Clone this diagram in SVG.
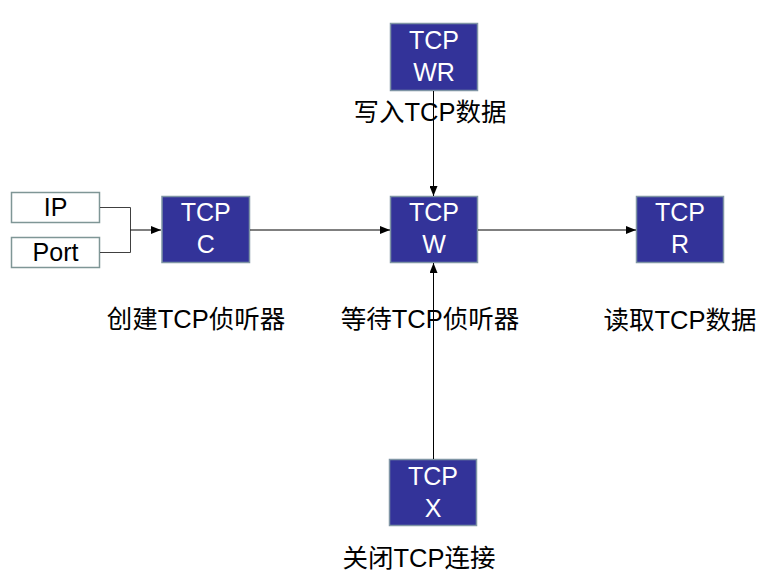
<svg xmlns="http://www.w3.org/2000/svg" width="765" height="583" viewBox="0 0 765 583">
<defs>
<style>
.node{fill:#333399;stroke:#7f95a5;stroke-width:1.5}
.in{fill:#ffffff;stroke:#7f9696;stroke-width:1.5}
.nt{font-family:"Liberation Sans",Arial,sans-serif;font-size:25px;fill:#ffffff;text-anchor:middle}
.it{font-family:"Liberation Sans",Arial,sans-serif;font-size:25px;fill:#000000;text-anchor:middle}
.lb{font-family:"Liberation Sans","Noto Sans CJK SC",sans-serif;font-size:25.5px;fill:#000000;text-anchor:middle}
.ln{stroke:#000000;stroke-width:1;fill:none}
.lg{stroke:#404040;stroke-width:1;fill:none}
</style>
<marker id="ah" viewBox="0 0 10 8" refX="10" refY="4" markerWidth="10" markerHeight="8" markerUnits="userSpaceOnUse" orient="auto">
<path d="M0,0 L10,4 L0,8 Z" fill="#000000"/>
</marker>
</defs>
<rect width="765" height="583" fill="#ffffff"/>
<g id="labels">
<text class="lb" x="430" y="121">写入TCP数据</text>
<text class="lb" x="196" y="328">创建TCP侦听器</text>
<text class="lb" x="430" y="328">等待TCP侦听器</text>
<text class="lb" x="680" y="329">读取TCP数据</text>
<text class="lb" x="419" y="567">关闭TCP连接</text>
</g>
<g id="node-ip"><rect class="in" x="11.5" y="192.5" width="88" height="30"/><text class="it" x="55.5" y="216">IP</text></g>
<g id="node-port"><rect class="in" x="11.5" y="237.5" width="88" height="30"/><text class="it" x="55.5" y="261">Port</text></g>
<g id="node-c"><rect class="node" x="162" y="196.5" width="87.5" height="66"/><text class="nt" x="205.75" y="220.5">TCP</text><text class="nt" x="205.75" y="252.5">C</text></g>
<g id="node-wr"><rect class="node" x="390.5" y="23.5" width="87" height="67"/><text class="nt" x="434" y="48.5">TCP</text><text class="nt" x="434" y="80.5">WR</text></g>
<g id="node-w"><rect class="node" x="390.5" y="196.5" width="87" height="66"/><text class="nt" x="434" y="220.5">TCP</text><text class="nt" x="434" y="252.5">W</text></g>
<g id="node-r"><rect class="node" x="636.5" y="196.5" width="87" height="66"/><text class="nt" x="680" y="220.5">TCP</text><text class="nt" x="680" y="252.5">R</text></g>
<g id="node-x"><rect class="node" x="389.5" y="459.5" width="87" height="66"/><text class="nt" x="433" y="484.5">TCP</text><text class="nt" x="433" y="516.5">X</text></g>
<g id="connectors">
<path class="lg" d="M100,207.5 H130.5 V252.5 H100"/>
<line class="ln" x1="130.5" y1="230" x2="161" y2="230" marker-end="url(#ah)"/>
<line class="ln" x1="250" y1="230" x2="390" y2="230" marker-end="url(#ah)"/>
<line class="ln" x1="478" y1="230" x2="636" y2="230" marker-end="url(#ah)"/>
<line class="ln" x1="433.5" y1="91" x2="433.5" y2="196" marker-end="url(#ah)"/>
<line class="ln" x1="433.5" y1="459" x2="433.5" y2="263" marker-end="url(#ah)"/>
</g>
</svg>
